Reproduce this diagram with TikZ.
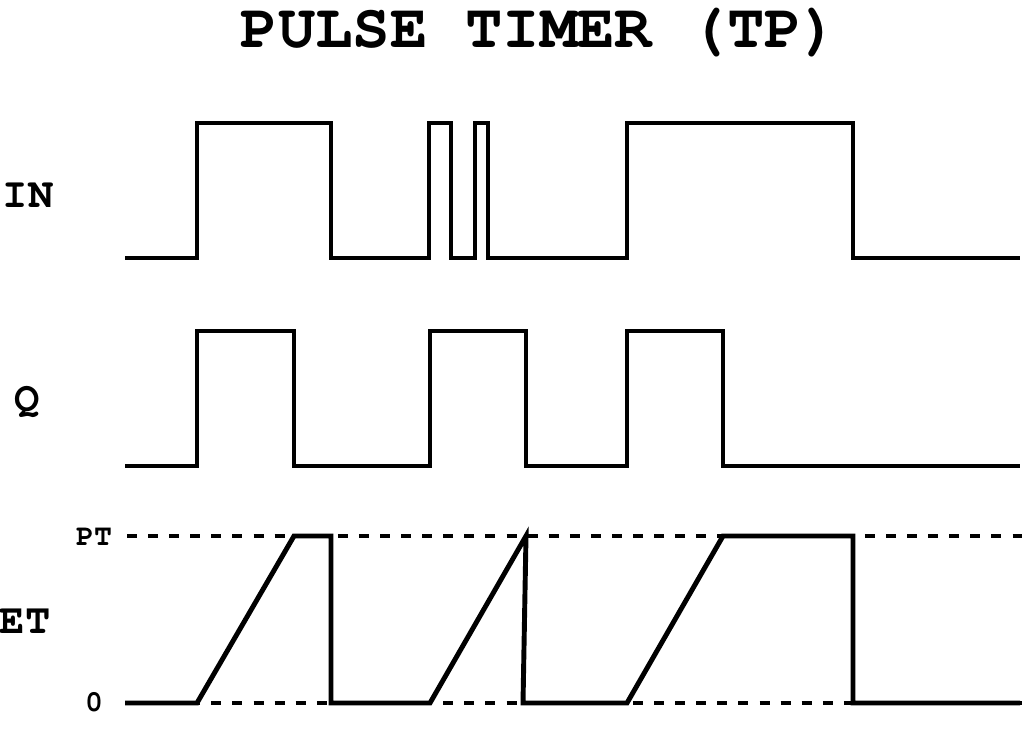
\documentclass[tikz,border=0pt]{standalone}
\usepackage{fontspec}
\setmonofont{TeX Gyre Cursor}
\tikzset{
  wave/.style={line width=2.8pt},
  level/.style={line width=2.8pt, dash pattern=on 5.7pt off 6.3pt},
  lbl/.style={font=\ttfamily\bfseries, inner sep=0pt}
}
\begin{document}
\begin{tikzpicture}[x=0.02cm, y=-0.02cm]
            \useasboundingbox (0,0) rectangle (1024,733);
            \node[lbl, font=\ttfamily\bfseries\fontsize{35.5}{35.5}\selectfont] (title) at (540,33) {PULSE TIMER (TP)};
            \node[lbl, font=\ttfamily\bfseries\fontsize{24}{24}\selectfont] (in) at (28,195) {IN};
            \node[lbl, font=\ttfamily\bfseries\fontsize{24}{24}\selectfont] (q) at (27,402) {Q};
            \node[lbl, font=\ttfamily\bfseries\fontsize{24}{24}\selectfont] (et) at (25,621) {ET};
            \node[lbl, font=\ttfamily\bfseries\fontsize{17}{17}\selectfont] (pt) at (94,537) {PT};
            \node[lbl, font=\ttfamily\bfseries\fontsize{17}{17}\selectfont] (zero) at (94,702) {0};
            % levels of ET
            \draw[level] (127,536) -- (1022,536);
            \draw[level] (127,703) -- (1022,703);
            % IN
            \draw[wave] (125,258) -- (197,258) -- (197,123) -- (331,123) -- (331,258)
              -- (429,258) -- (429,123) -- (451,123) -- (451,258) -- (475,258)
              -- (475,123) -- (488,123) -- (488,258) -- (627,258) -- (627,123)
              -- (853,123) -- (853,258) -- (1020,258);
            % Q
            \draw[wave] (125,466) -- (197,466) -- (197,331) -- (294,331) -- (294,466)
              -- (430,466) -- (430,331) -- (526,331) -- (526,466) -- (627,466)
              -- (627,331) -- (723,331) -- (723,466) -- (1020,466);
            % ET
            \draw[wave] (125,703) -- (197,703) -- (294,536) -- (331,536) -- (331,703)
              -- (430,703) -- (526,536) -- (523,703) -- (627,703) -- (723,536)
              -- (853,536) -- (853,703) -- (1020,703);
        \end{tikzpicture}
\end{document}
